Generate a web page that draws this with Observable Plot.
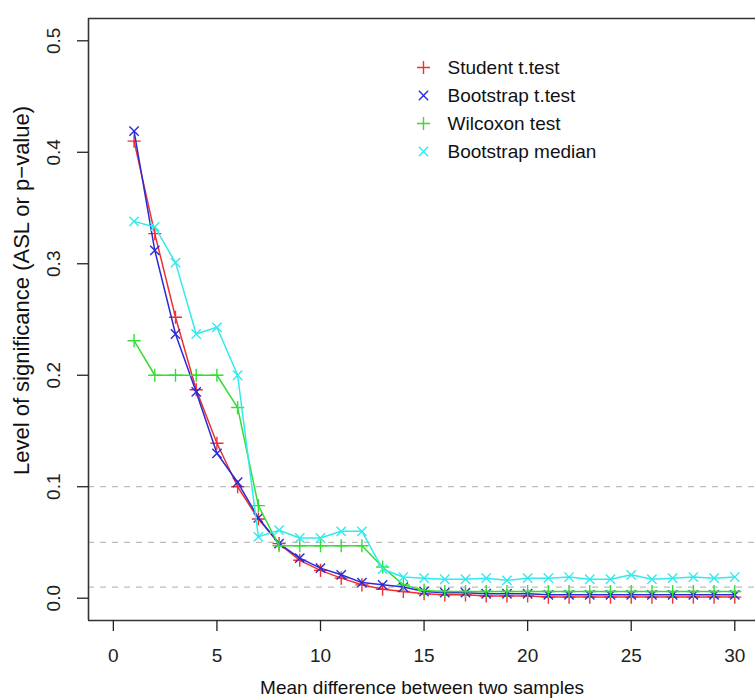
<!DOCTYPE html>
<html><head><meta charset="utf-8">
<script src="https://cdn.jsdelivr.net/npm/d3@7"></script>
<script src="https://cdn.jsdelivr.net/npm/@observablehq/plot@0.6"></script>
<style>
html,body{margin:0;padding:0;background:#fff}
#chart{width:755px;height:698px;overflow:hidden}
</style>
</head><body><div id="chart"></div>
<script>
// Mean difference between two samples
const meanDiff = [1,2,3,4,5,6,7,8,9,10,11,12,13,14,15,16,17,18,19,20,21,22,23,24,25,26,27,28,29,30];
// Student t.test
const student = [0.410,0.327,0.252,0.187,0.139,0.100,0.071,0.049,0.034,0.025,0.018,0.012,0.008,0.006,0.004,0.003,0.003,0.002,0.002,0.002,0.001,0.001,0.001,0.001,0.001,0.001,0.001,0.001,0.001,0.001];
// Bootstrap t.test
const bootT = [0.419,0.312,0.237,0.185,0.130,0.104,0.072,0.049,0.036,0.027,0.021,0.014,0.012,0.010,0.006,0.005,0.005,0.004,0.004,0.004,0.003,0.003,0.003,0.003,0.003,0.003,0.003,0.003,0.003,0.003];
// Wilcoxon test
const wilcoxon = [0.231,0.200,0.200,0.200,0.200,0.171,0.083,0.047,0.047,0.047,0.047,0.047,0.028,0.012,0.007,0.006,0.006,0.006,0.006,0.006,0.006,0.006,0.006,0.006,0.006,0.006,0.006,0.006,0.006,0.006];
// Bootstrap median
const bootMedian = [0.338,0.333,0.301,0.237,0.243,0.200,0.055,0.061,0.054,0.054,0.060,0.060,0.026,0.019,0.018,0.017,0.017,0.018,0.016,0.018,0.018,0.019,0.017,0.017,0.021,0.017,0.018,0.019,0.018,0.019];

const seriesNames = ["Student t.test","Bootstrap t.test","Wilcoxon test","Bootstrap median"];
const seriesValues = [student, bootT, wilcoxon, bootMedian];
const seriesColors = ["#f03030","#2a2ad6","#33dd33","#33eaea"];
const seriesSymbols = ["plus","times","plus","times"];
const xTicks = [0,5,10,15,20,25,30];
const yTicks = [0,0.1,0.2,0.3,0.4,0.5];
const refLines = [0.1,0.05,0.01];
const xTitle = "Mean difference between two samples";
const yTitle = "Level of significance (ASL or p\u2212value)";

const font = "'Liberation Sans', Arial, Helvetica, sans-serif";

const seriesMarks = seriesNames.flatMap((name, i) => {
  const rows = meanDiff.map((x, j) => ({x, y: seriesValues[i][j]}));
  return [
    Plot.line(rows, {x: "x", y: "y", stroke: seriesColors[i], strokeWidth: 1.5}),
    Plot.dot(rows, {x: "x", y: "y", symbol: seriesSymbols[i], stroke: seriesColors[i], r: 4.3, strokeWidth: 1.4})
  ];
});

const legendMarks = seriesNames.flatMap((name, i) => [
  Plot.dot([name], {frameAnchor: "top-left", dx: 335, dy: 49 + 28 * i, symbol: seriesSymbols[i], stroke: seriesColors[i], r: 4.3, strokeWidth: 1.4}),
  Plot.text([name], {frameAnchor: "top-left", dx: 359, dy: 49 + 28 * i, text: d => d, textAnchor: "start", lineAnchor: "middle", fontSize: 19, fill: "#111"})
]);

const chart = Plot.plot({
  width: 755,
  height: 698,
  marginLeft: 88,
  marginRight: 0,
  marginTop: 18,
  marginBottom: 78,
  style: {fontSize: "19px", fontFamily: font, background: "#fff", color: "#222"},
  x: {domain: [-1.2, 31.0]},
  y: {domain: [-0.02, 0.52]},
  marks: [
    Plot.ruleY(refLines, {stroke: "#bdbdbd", strokeWidth: 1.3, strokeDasharray: "6,6"}),
    ...seriesMarks,
    Plot.ruleY([0.52], {stroke: "#333", strokeWidth: 1.6}),
    Plot.ruleY([-0.02], {stroke: "#333", strokeWidth: 1.6}),
    Plot.ruleX([-1.2], {stroke: "#333", strokeWidth: 1.6}),
    Plot.axisX({ticks: xTicks, tickSize: 11, tickPadding: 17, label: null, fontSize: 19, strokeWidth: 1.3}),
    Plot.axisY({ticks: yTicks, tickFormat: d3.format(".1f"), tickRotate: -90, tickSize: 11, tickPadding: 18, label: null, fontSize: 19, strokeWidth: 1.3}),
    Plot.text([xTitle], {frameAnchor: "bottom", dy: 67, text: d => d, textAnchor: "middle", lineAnchor: "middle", fontSize: 19, fill: "#111"}),
    Plot.text([yTitle], {frameAnchor: "left", dx: -67, dy: -29, rotate: -90, text: d => d, textAnchor: "middle", lineAnchor: "middle", fontSize: 22, fill: "#111"}),
    ...legendMarks
  ]
});
document.getElementById("chart").appendChild(chart);
</script>
</body></html>
